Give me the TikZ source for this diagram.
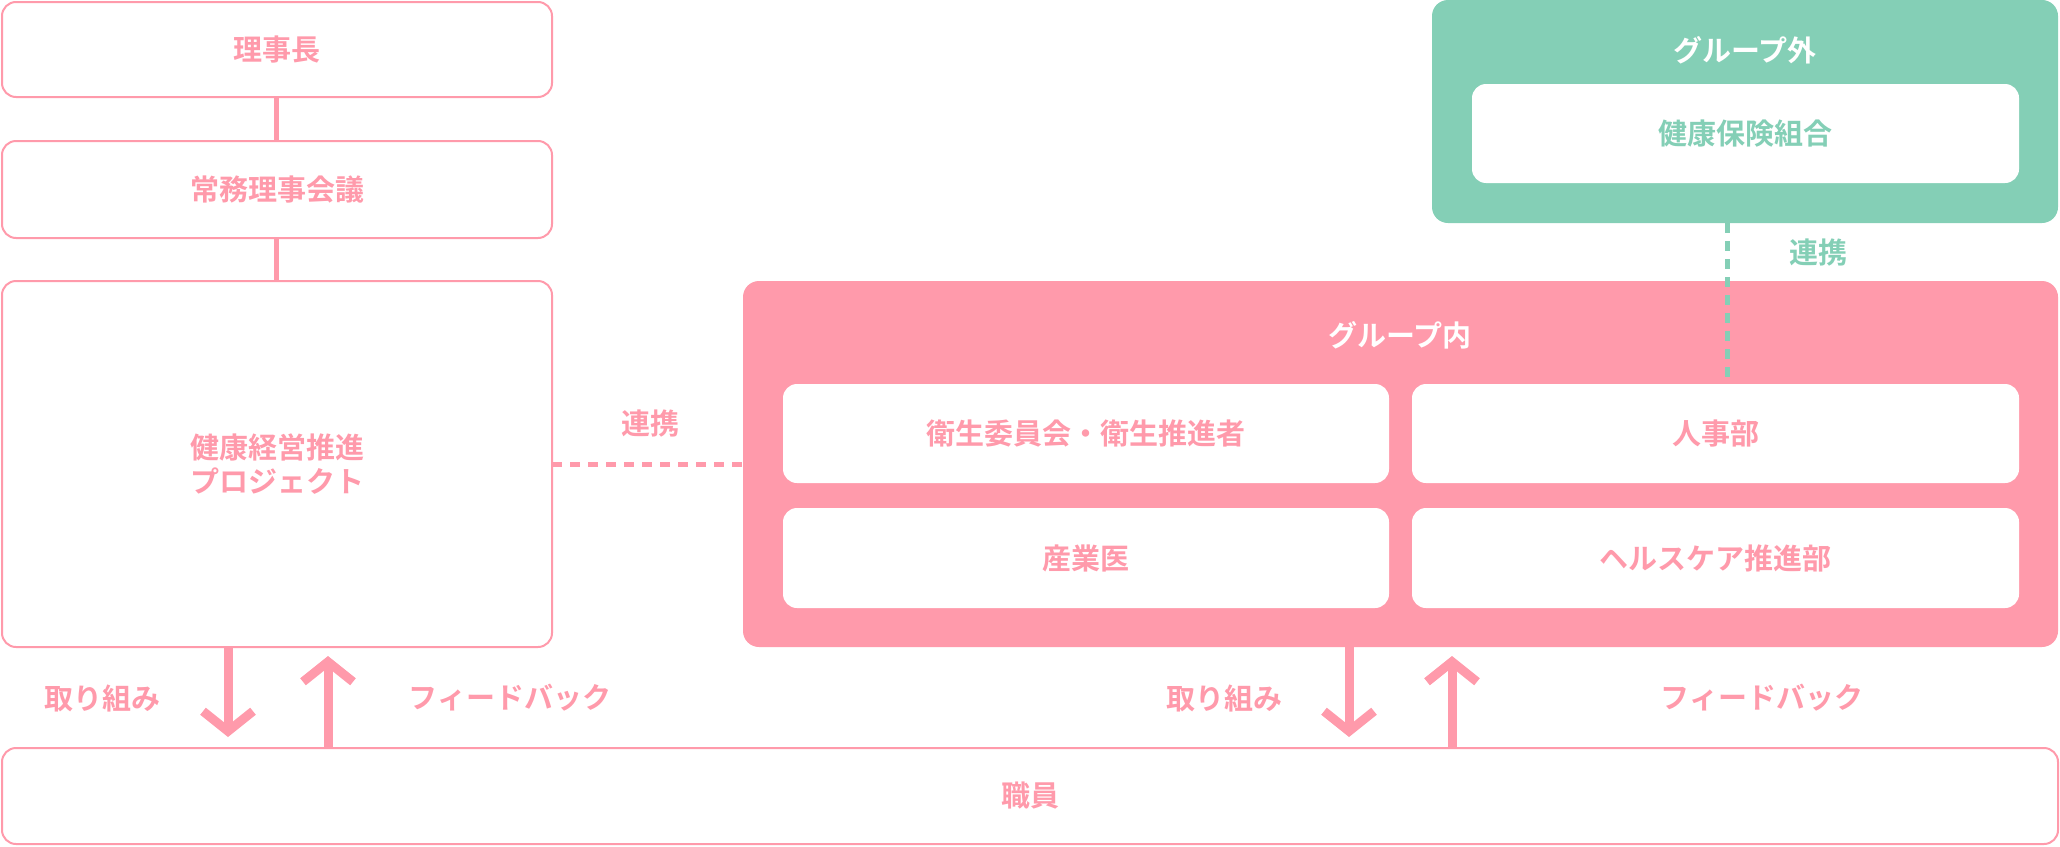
\documentclass[tikz,border=0pt]{standalone}
\usepackage{fontspec}
\newfontfamily\jp{Noto Sans CJK JP Bold}
\usetikzlibrary{arrows.meta}
\definecolor{pk}{HTML}{FF9AAB}
\definecolor{gr}{HTML}{84CFB6}
\begin{document}
\begin{tikzpicture}[x=1pt,y=-1pt,
  txt/.style={font=\jp\fontsize{29}{34}\selectfont},
  obox/.style={draw=pk,line width=2pt,fill=white,rounded corners=14pt},
  ibox/.style={fill=white,rounded corners=14pt},
  conn/.style={pk,line width=5pt},
  arr/.style={pk,line width=9pt,-{Straight Barb[length=20pt,width=50pt,line width=9pt]}}]
\useasboundingbox (0,0) rectangle (2060,846);
% left column
\draw[obox] (2,2) rectangle (552,97) node[midway,txt,pk] (a) {理事長};
\draw[obox] (2,141) rectangle (552,238) node[midway,txt,pk] (b) {常務理事会議};
\draw[obox] (2,281) rectangle (552,647) node[midway,txt,pk,align=center] (c) {健康経営推進\\プロジェクト};
\draw[conn] (276,97) -- (276,141);
\draw[conn] (276,238) -- (276,281);
% group inside
\fill[pk,rounded corners=16pt] (743,281) rectangle (2058,647);
\node[txt,white] (gin) at (1400,335) {グループ内};
\fill[ibox] (783,384) rectangle (1389,483) node[midway,txt,pk] (e) {衛生委員会・衛生推進者};
\fill[ibox] (1412,384) rectangle (2019,483) node[midway,txt,pk] (f) {人事部};
\fill[ibox] (783,508) rectangle (1389,608) node[midway,txt,pk] (g) {産業医};
\fill[ibox] (1412,508) rectangle (2019,608) node[midway,txt,pk] (h) {ヘルスケア推進部};
% group outside
\fill[gr,rounded corners=16pt] (1432,0) rectangle (2058,223);
\node[txt,white] (gout) at (1745,50) {グループ外};
\fill[ibox] (1472,84) rectangle (2019,183) node[midway,txt,gr] (k) {健康保険組合};
% links
\coordinate (l1) at (552,464); \coordinate (l2) at (743,464);
\draw[pk,line width=5pt,dash pattern=on 10pt off 8pt] (l1) -- (l2);
\node[txt,pk] (ln1) at (650,424) {連携};
\coordinate (g1) at (1727,223); \coordinate (g2) at (1727,381);
\draw[gr,line width=5pt,dash pattern=on 10pt off 8pt] (g1) -- (g2);
\node[txt,gr] (ln2) at (1818,253) {連携};
% staff
\draw[obox] (2,748) rectangle (2058,844) node[midway,txt,pk] (s) {職員};
% arrows
\coordinate (d1a) at (228,647); \coordinate (d1b) at (228,737);
\coordinate (u1a) at (328,748); \coordinate (u1b) at (328,656);
\coordinate (d2a) at (1349,647); \coordinate (d2b) at (1349,737);
\coordinate (u2a) at (1452,748); \coordinate (u2b) at (1452,656);
\draw[arr] (d1a) -- (d1b);
\draw[arr] (u1a) -- (u1b);
\draw[arr] (d2a) -- (d2b);
\draw[arr] (u2a) -- (u2b);
\node[txt,pk] (t1) at (102,698) {取り組み};
\node[txt,pk] (t2) at (510,698) {フィードバック};
\node[txt,pk] (t3) at (1224,698) {取り組み};
\node[txt,pk] (t4) at (1762,698) {フィードバック};
\end{tikzpicture}
\end{document}
